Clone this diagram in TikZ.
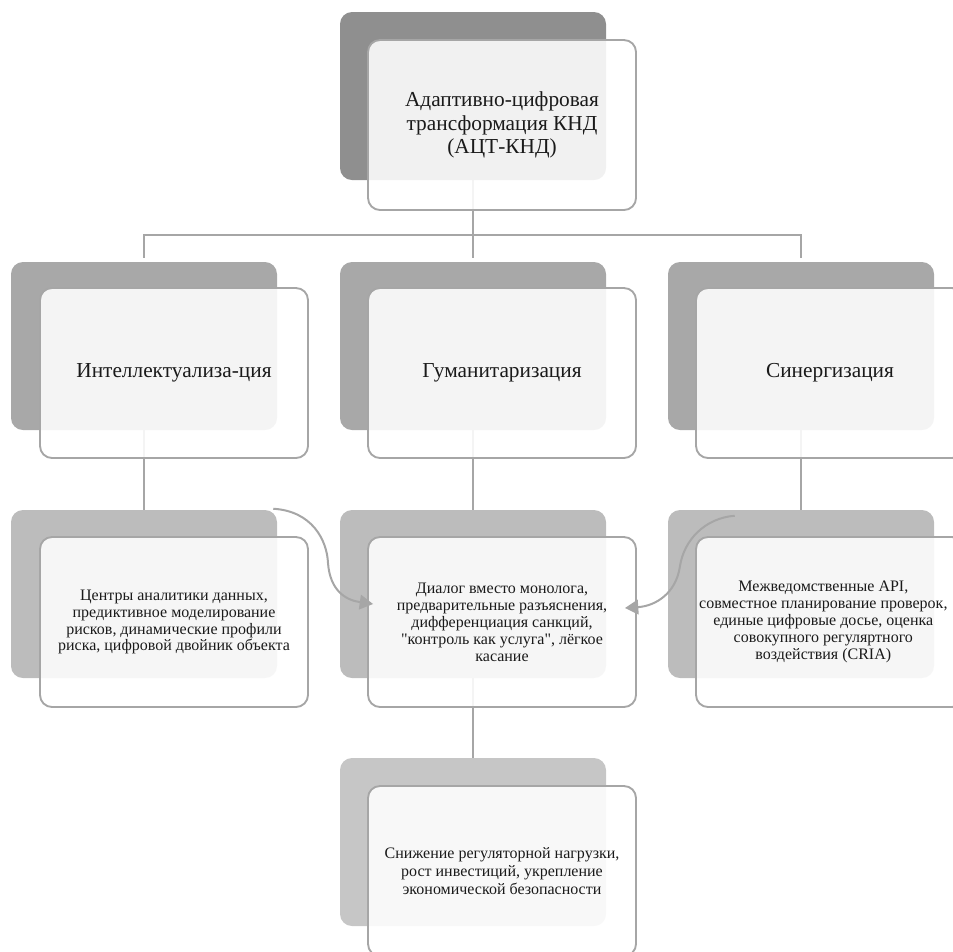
\documentclass[tikz,border=0pt]{standalone}
\usepackage{fontspec}
\setmainfont{Liberation Serif}[Ligatures=TeXOff]
\usetikzlibrary{arrows.meta,calc}
\pgfdeclarelayer{bg}
\pgfsetlayers{bg,main}
\definecolor{backA}{HTML}{8F8F8F}
\definecolor{backB}{HTML}{A8A8A8}
\definecolor{backC}{HTML}{BCBCBC}
\definecolor{backD}{HTML}{C6C6C6}
\definecolor{edgecol}{HTML}{A6A6A6}
\definecolor{txtcol}{HTML}{1A1A1A}
\begin{document}
\begin{tikzpicture}[x=0.75pt,y=-0.75pt,
  backbox/.style={draw=none, rounded corners=9pt, minimum width=199.5pt, minimum height=126pt, inner sep=0pt},
  frontbox/.style={draw=edgecol, line width=1.4pt, fill=white, fill opacity=0.88, text opacity=1,
    rounded corners=9pt, minimum width=201pt, minimum height=127.5pt, align=center, inner sep=0pt, text=txtcol},
  bigtxt/.style={font=\fontsize{16}{17.6}\selectfont},
  smalltxt/.style={font=\fontsize{12}{12.7}\selectfont},
  midtxt/.style={font=\fontsize{12}{13.7}\selectfont},
  conn/.style={draw=edgecol, line width=1.5pt},
  arr/.style={draw=edgecol, line width=1.5pt, -{Triangle[length=10pt,width=11pt]}}]
\useasboundingbox (0,0) rectangle (953,951);
% back boxes
\node[backbox, fill=backA] (tb) at (473,96) {};
\node[backbox, fill=backB] (b21) at (144,346) {};
\node[backbox, fill=backB] (b22) at (473,346) {};
\node[backbox, fill=backB] (b23) at (801,346) {};
\node[backbox, fill=backC] (b31) at (144,594) {};
\node[backbox, fill=backC] (b32) at (473,594) {};
\node[backbox, fill=backC] (b33) at (801,594) {};
\node[backbox, fill=backD] (b4) at (473,842) {};
% front boxes
\node[frontbox, bigtxt] (tf) at (502,125) {Адаптивно-цифровая\\трансформация КНД\\(АЦТ-КНД)};
\node[frontbox, bigtxt] (f21) at (174,373) {Интеллектуализа-ция};
\node[frontbox, bigtxt] (f22) at (502,373) {Гуманитаризация};
\node[frontbox, bigtxt] (f23) at (830,373) {Синергизация};
\node[frontbox, smalltxt] (f31) at (174,622) {Центры аналитики данных,\\предиктивное моделирование\\рисков, динамические профили\\риска, цифровой двойник объекта};
\node[frontbox, smalltxt] (f32) at (502,622) {Диалог вместо монолога,\\предварительные разъяснения,\\дифференциация санкций,\\"контроль как услуга", лёгкое\\касание};
\node[frontbox, smalltxt] (f33) at (830,622) {\hspace*{-10pt}\begin{tabular}{@{}c@{}}Межведомственные API,\\совместное планирование проверок,\\единые цифровые досье, оценка\\совокупного регуляртного\\воздействия (CRIA)\end{tabular}};
\node[frontbox, midtxt] (f4) at (502,871) {Снижение регуляторной нагрузки,\\рост инвестиций, укрепление\\экономической безопасности};
% connectors
\coordinate (bus) at (473,235);
\begin{pgfonlayer}{bg}
\draw[conn] (tb.south) -- (bus);
\draw[conn, shorten <=3pt, shorten >=3pt] (b21.north) |- (bus) -| (b23.north);
\draw[conn, shorten >=3pt] (bus) -- (b22.north);
\draw[conn] (b21.south) -- (b31.north);
\draw[conn] (b22.south) -- (b32.north);
\draw[conn] (b23.south) -- (b33.north);
\draw[conn] (b32.south) -- (b4.north);
\end{pgfonlayer}
% curved arrows
\coordinate (la) at ($(b31.north east)+(-4,-1)$);
\coordinate (ra) at ($(b33.north west)+(67,6)$);
\draw[arr] (la) .. controls (312,511) and (327,540) .. (328,563)
  .. controls (330,590) and (345,600) .. ($(f32.west)+(6,-18)$);
\draw[arr] (ra) .. controls (705,518) and (684,540) .. (680,566)
  .. controls (676,594) and (655,606) .. ($(f32.east)+(-12,-14)$);
\end{tikzpicture}
\end{document}
